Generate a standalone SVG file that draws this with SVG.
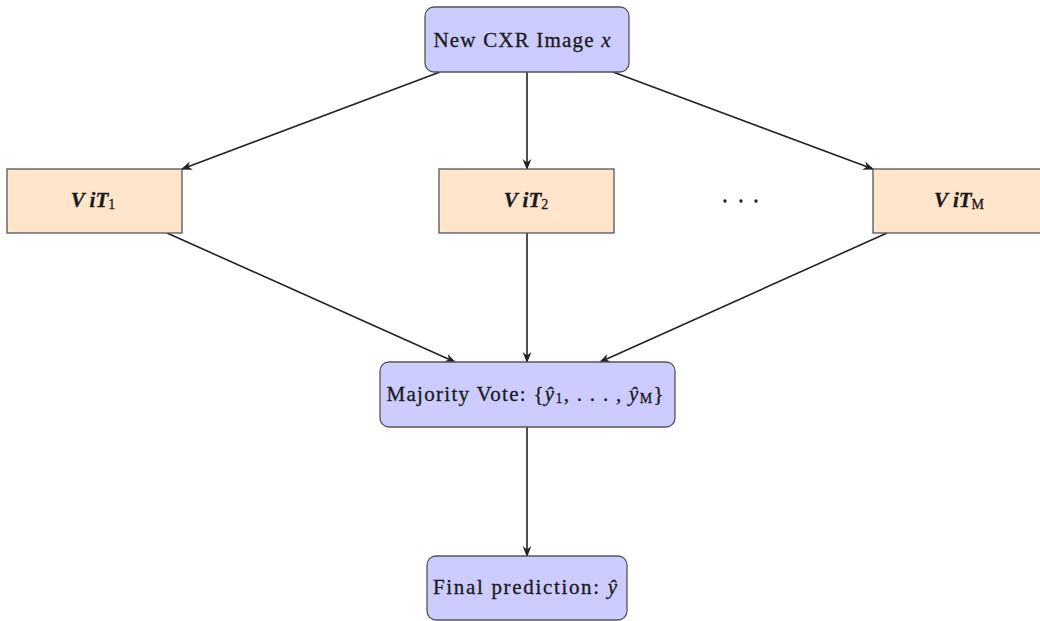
<svg xmlns="http://www.w3.org/2000/svg" width="1040" height="621" viewBox="0 0 1040 621">
<defs>
<style>
.blue{fill:#ccccff;stroke:#555;stroke-width:1.3}
.orange{fill:#ffe5cc;stroke:#555;stroke-width:1.3}
text{font-family:"Liberation Serif","DejaVu Serif",serif;font-size:21px;fill:#1a1a1a;stroke:#1a1a1a;stroke-width:0.3;text-anchor:middle;dominant-baseline:central}
.m{font-style:italic}
.vit{font-style:italic;font-weight:bold}
.sub{font-size:14px;font-style:normal}
.conn{stroke:#222;stroke-width:1.6;fill:none;marker-end:url(#arr)}
</style>
<marker id="arr" viewBox="0 0 10 10" refX="9" refY="5" markerWidth="11" markerHeight="11" orient="auto" markerUnits="userSpaceOnUse">
<path d="M0,1 L10,5 L0,9 L3,5 Z" fill="#222"/>
</marker>
</defs>
<rect width="1040" height="621" fill="#fff"/>
<g id="connectors">
<line class="conn" x1="440" y1="72" x2="182" y2="169"/>
<line class="conn" x1="527" y1="72" x2="527" y2="169"/>
<line class="conn" x1="613" y1="72" x2="873" y2="169"/>
<line class="conn" x1="167" y1="233" x2="455" y2="362"/>
<line class="conn" x1="527" y1="233" x2="527" y2="362"/>
<line class="conn" x1="887" y1="233" x2="600" y2="362"/>
<line class="conn" x1="527" y1="427" x2="527" y2="556"/>
</g>
<g id="node-input">
<rect class="blue" x="425" y="7" width="204" height="65" rx="9"/>
<text x="522" y="40" textLength="177">New CXR Image <tspan class="m">x</tspan></text>
</g>
<g id="node-vit1">
<rect class="orange" x="7" y="169" width="175" height="64"/>
<text x="93" y="200"><tspan class="vit">V iT</tspan><tspan class="sub" dy="4">1</tspan></text>
</g>
<g id="node-vit2">
<rect class="orange" x="439" y="169" width="175" height="64"/>
<text x="526" y="200"><tspan class="vit">V iT</tspan><tspan class="sub" dy="4">2</tspan></text>
</g>
<g id="node-dots">
<circle cx="725" cy="201" r="1.7" fill="#222"/>
<circle cx="741" cy="201" r="1.7" fill="#222"/>
<circle cx="756" cy="201" r="1.7" fill="#222"/>
</g>
<g id="node-vitm">
<rect class="orange" x="873" y="169" width="175" height="64"/>
<text x="959" y="200"><tspan class="vit">V iT</tspan><tspan class="sub m" dy="4">M</tspan></text>
</g>
<g id="node-vote">
<rect class="blue" x="380" y="362" width="295" height="65" rx="9"/>
<text x="525" y="394" textLength="277">Majority Vote: {<tspan class="m">ŷ</tspan><tspan class="sub" dy="4">1</tspan><tspan dy="-4">, . . . , </tspan><tspan class="m">ŷ</tspan><tspan class="sub m" dy="4">M</tspan><tspan dy="-4">}</tspan></text>
</g>
<g id="node-final">
<rect class="blue" x="427" y="556" width="200" height="64" rx="9"/>
<text x="525" y="587" textLength="184">Final prediction: <tspan class="m">ŷ</tspan></text>
</g>
</svg>
